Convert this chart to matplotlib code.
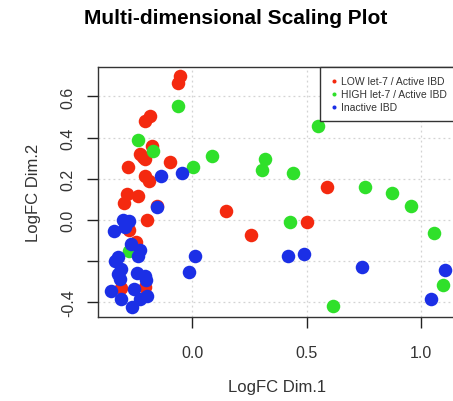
import matplotlib
matplotlib.use("Agg")
import matplotlib.pyplot as plt

plt.rcParams['font.family'] = ['Liberation Sans', 'DejaVu Sans']

# MDS coordinates
low_x = [-0.054, -0.061, -0.185, -0.207, -0.178, -0.229, -0.207, -0.216, -0.280, -0.098,
         -0.207, -0.188, -0.284, -0.237, -0.299, -0.154, -0.197, 0.147, 0.257, -0.278,
         -0.245, -0.310, -0.208, 0.590, 0.503]
low_y = [0.700, 0.665, 0.503, 0.481, 0.361, 0.320, 0.296, 0.306, 0.259, 0.280,
         0.215, 0.191, 0.126, 0.115, 0.083, 0.068, 0.001, 0.045, -0.071, -0.047,
         -0.105, -0.332, -0.324, 0.159, -0.008]

high_x = [-0.064, -0.236, -0.171, 0.085, 0.002, 0.318, 0.303, -0.277, 0.551, 0.442,
          0.755, 0.872, 0.956, 0.427, 1.058, 1.097, 0.614]
high_y = [0.555, 0.388, 0.335, 0.312, 0.259, 0.296, 0.243, -0.150, 0.458, 0.227,
          0.162, 0.130, 0.069, -0.011, -0.063, -0.316, -0.416]

inact_x = [-0.138, -0.046, -0.153, -0.303, -0.278, -0.296, -0.344, -0.269, -0.230, -0.237,
           -0.325, -0.339, -0.310, -0.325, -0.317, -0.240, -0.208, -0.204, -0.354, -0.256,
           -0.310, -0.197, -0.230, -0.262, 0.010, -0.016, 0.417, 0.488, 0.743, 1.105, 1.044]
inact_y = [0.212, 0.227, 0.062, 0.001, -0.006, -0.035, -0.055, -0.117, -0.144, -0.173,
           -0.180, -0.198, -0.238, -0.262, -0.286, -0.259, -0.273, -0.290, -0.346, -0.335,
           -0.383, -0.370, -0.383, -0.424, -0.173, -0.251, -0.176, -0.165, -0.230, -0.241, -0.383]

x_ticks = [0.0, 0.5, 1.0]
x_tick_labels = ['0.0', '0.5', '1.0']
y_ticks = [-0.4, -0.2, 0.0, 0.2, 0.4, 0.6]
y_tick_labels = ['-0.4', '', '0.0', '0.2', '0.4', '0.6']

fig = plt.figure(figsize=(4.53, 4.02), dpi=100)
ax = fig.add_axes([98 / 453, 84 / 402, 358 / 453, 250 / 402])

ax.set_xlim(-0.412, 1.153)
ax.set_ylim(-0.471, 0.743)

# dotted grid like R's grid()
for xv in x_ticks:
    ax.axvline(xv, color='#d3d3d3', lw=0.9, ls=(0, (1.5, 2.5)), zorder=0)
for yv in y_ticks:
    ax.axhline(yv, color='#d3d3d3', lw=0.9, ls=(0, (1.5, 2.5)), zorder=0)

s = 95
ax.scatter(low_x, low_y, s=s, color='#f4290f', lw=0, label='LOW let-7 / Active IBD', zorder=2)
ax.scatter(high_x, high_y, s=s, color='#2fe02a', lw=0, label='HIGH let-7 / Active IBD', zorder=3)
ax.scatter(inact_x, inact_y, s=s, color='#1b2fe6', lw=0, label='Inactive IBD', zorder=4)

ax.set_xticks(x_ticks)
ax.set_xticklabels(x_tick_labels)
ax.set_yticks(y_ticks)
ax.set_yticklabels(y_tick_labels, rotation=90, va='center')
ax.tick_params(axis='both', direction='out', length=8, width=1, labelsize=11.5,
               colors='#222222', labelcolor='#333333')
ax.tick_params(axis='x', pad=12)
ax.tick_params(axis='y', pad=8)

for sp in ax.spines.values():
    sp.set_color('#333333')
    sp.set_linewidth(1)

ax.set_xlabel('LogFC Dim.1', fontsize=12, color='#333333', labelpad=14)
ax.set_ylabel('LogFC Dim.2', fontsize=12, color='#333333', labelpad=14)

fig.text(236 / 453, 1 - 18 / 402, 'Multi-dimensional Scaling Plot', fontsize=15,
         fontweight='bold', ha='center', va='center')

leg = ax.legend(loc='upper right', bbox_to_anchor=(1.0, 1.0), borderaxespad=0,
                fontsize=7.5, markerscale=0.3, fancybox=False, framealpha=1,
                edgecolor='#333333', handletextpad=0.2, labelspacing=0.3,
                borderpad=0.85, handlelength=1.0)
leg.get_frame().set_linewidth(1)
for t in leg.get_texts():
    t.set_color('#333333')

fig.savefig('out.png', dpi=100)
